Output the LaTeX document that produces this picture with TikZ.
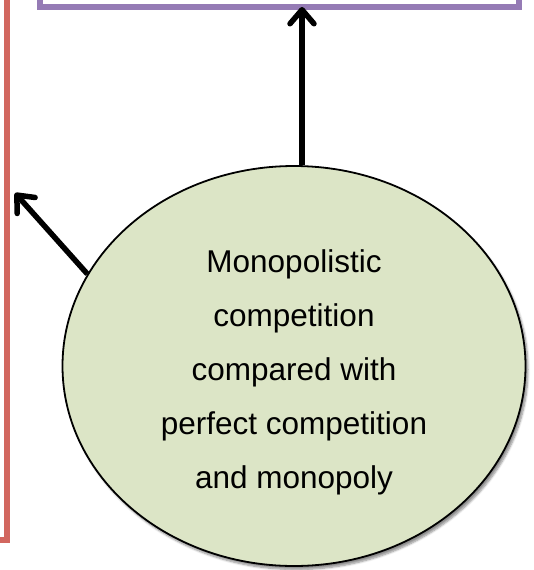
\documentclass[tikz,border=0pt]{standalone}
\usepackage{fontspec}
\setmainfont{Liberation Sans}
\usetikzlibrary{arrows.meta,shadows.blur,shapes.geometric}

\definecolor{framered}{HTML}{D2675F}
\definecolor{framepurple}{HTML}{957BB5}
\definecolor{bubblegreen}{HTML}{DCE5C6}

\tikzset{
  frameline/.style={line width=6pt, line join=miter},
  bubble/.style={ellipse, draw=black, line width=1.8pt, fill=bubblegreen,
    minimum width=463pt, minimum height=400pt, inner sep=0pt,
    blur shadow={shadow xshift=2.5pt, shadow yshift=-3.5pt, shadow blur steps=6, shadow opacity=45}},
  topictext/.style={align=center, inner sep=0pt,
    font=\fontsize{31.5}{54}\selectfont},
  link/.style={line width=5.5pt, black,
    -{Straight Barb[length=14pt, width=24pt, line width=5.5pt, round]}}
}

\begin{document}
\begin{tikzpicture}[x=1pt, y=-1pt]
  \useasboundingbox (0,0) rectangle (533,570);
  \clip (0,0) rectangle (533,570);

  % boxes reaching in from outside the frame
  \draw[frameline, framered] (-200,-200) rectangle (6.5,539.5);
  \draw[frameline, framepurple] (39.5,-200) rectangle (519,6.5);

  % anchor points on the two boxes
  \coordinate (toptarget) at (302,7);
  \coordinate (lefttarget) at (15,193);

  % central topic
  \node[bubble] (topic) at (294,366) {};
  \node[topictext] (topiclabel) at ([yshift=-6pt]topic.center)
    {Monopolistic\\competition\\compared with\\perfect competition\\and monopoly};

  % connectors
  \draw[link] (topic.north -| toptarget) -- (toptarget);
  \draw[link] (topic.156) -- (lefttarget);
\end{tikzpicture}
\end{document}
